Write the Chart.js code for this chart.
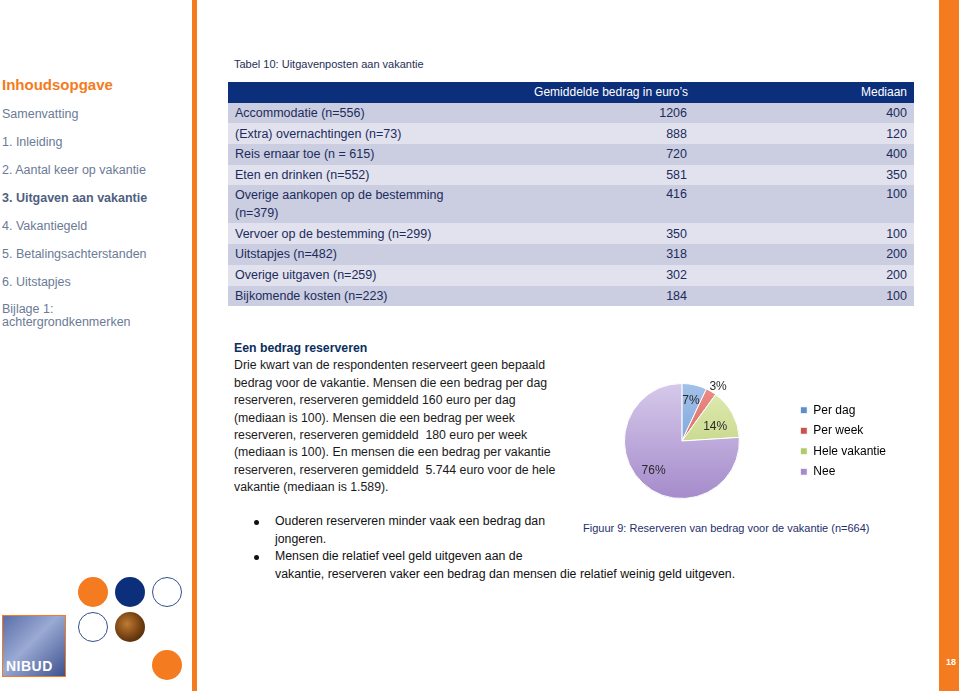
<!DOCTYPE html>
<html>
<head>
<meta charset="utf-8">
<script src="https://cdn.jsdelivr.net/npm/chart.js@4/dist/chart.umd.min.js"></script>
<style>
  body { margin: 0; width: 959px; height: 691px; position: relative; background: #fff; font-family: "Liberation Sans", Arial, sans-serif; overflow: hidden; }
  .abs { position: absolute; }
  #stripeL { left: 192px; top: 0; width: 5px; height: 691px; background: #f47b20; }
  #stripeR { left: 939px; top: 0; width: 20px; height: 691px; background: #f47b20; }
  #toc { left: 2px; top: 76px; font-size: 12.5px; color: #6b7a96; }
  #toc .h { color: #f47b20; font-weight: bold; font-size: 15px; height: 31px; }
  #toc div { height: 28px; }
  #toc .b { font-weight: bold; color: #4e5f80; }
  #tabtitle { left: 234px; top: 58px; font-size: 11px; color: #1f2f55; }
  table { position: absolute; left: 228px; top: 82px; width: 686px; border-collapse: collapse; font-size: 12.5px; color: #1c2c5c; }
  td { padding: 0 7px; height: 20.7px; vertical-align: middle; }
  tr.hd td { background: #0c2f7c; color: #fff; font-size: 12px; }
  tr.o td { background: #cbcde0; }
  tr.e td { background: #e1e2ee; }
  td.n { text-align: right; }
  #txt { left: 234px; top: 340px; width: 360px; font-size: 12.3px; color: #1a1a1a; line-height: 17.4px; }
  #txt b { color: #0c2f5c; }
  #bul { left: 248px; top: 513px; font-size: 12.3px; color: #111; line-height: 17.6px; }
  #bul .d { position: absolute; left: 6px; width: 5px; height: 5px; border-radius: 50%; background: #111; }
  #cap { left: 583px; top: 522px; font-size: 11px; color: #1f2f6b; }
  #chartbox { left: 572px; top: 377px; width: 344px; height: 130px; }
  .c { position: absolute; width: 30px; height: 30px; border-radius: 50%; box-sizing: border-box; }
  #logo { left: 2px; top: 615px; width: 64px; height: 62px; background: linear-gradient(135deg, #5a6ea8, #9aaad4 45%, #3d518e); border: 1px solid #f47b20; box-sizing: border-box; }
  #logo span { position: absolute; left: 3px; bottom: 2px; color: #fff; font-weight: bold; font-size: 14px; letter-spacing: 0.5px; }
  #pg { left: 946px; top: 657px; color: #fff; font-size: 9px; font-weight: bold; }
</style>
</head>
<body>
<div class="abs" id="stripeL"></div>
<div class="abs" id="stripeR"></div>
<div class="abs" id="toc">
  <div class="h">Inhoudsopgave</div>
  <div>Samenvatting</div>
  <div>1. Inleiding</div>
  <div>2. Aantal keer op vakantie</div>
  <div class="b">3. Uitgaven aan vakantie</div>
  <div>4. Vakantiegeld</div>
  <div>5. Betalingsachterstanden</div>
  <div>6. Uitstapjes</div>
  <div style="line-height:13px">Bijlage 1:<br>achtergrondkenmerken</div>
</div>
<div class="abs" id="tabtitle">Tabel 10: Uitgavenposten aan vakantie</div>
<table id="tab"></table>
<div class="abs" id="txt">
  <b>Een bedrag reserveren</b><br>
  Drie kwart van de respondenten reserveert geen bepaald<br>
  bedrag voor de vakantie. Mensen die een bedrag per dag<br>
  reserveren, reserveren gemiddeld 160 euro per dag<br>
  (mediaan is 100). Mensen die een bedrag per week<br>
  reserveren, reserveren gemiddeld&nbsp; 180 euro per week<br>
  (mediaan is 100). En mensen die een bedrag per vakantie<br>
  reserveren, reserveren gemiddeld&nbsp; 5.744 euro voor de hele<br>
  vakantie (mediaan is 1.589).
</div>
<div class="abs" id="bul">
  <div class="d" style="top:7px"></div>
  <div style="padding-left:27px">Ouderen reserveren minder vaak een bedrag dan<br>jongeren.</div>
  <div class="d" style="top:42px"></div>
  <div style="padding-left:27px">Mensen die relatief veel geld uitgeven aan de<br>vakantie, reserveren vaker een bedrag dan mensen die relatief weinig geld uitgeven.</div>
</div>
<div class="abs" id="cap">Figuur 9: Reserveren van bedrag voor de vakantie (n=664)</div>
<div class="abs" id="chartbox"><canvas id="pie"></canvas></div>

<div class="c" style="left:78px;top:577px;background:#f47b20"></div>
<div class="c" style="left:115px;top:577px;background:#0c2f7c"></div>
<div class="c" style="left:152px;top:577px;border:1px solid #33508a"></div>
<div class="c" style="left:78px;top:612px;border:1px solid #33508a"></div>
<div class="c" style="left:115px;top:612px;background:radial-gradient(circle at 40% 40%, #c07a30, #6a3a10 60%, #3a2008)"></div>
<div class="c" style="left:152px;top:650px;background:#f47b20"></div>
<div class="abs" id="logo"><span>NIBUD</span></div>
<div class="abs" id="pg">18</div>

<script>
// tabel 10
const rowLabels = ['Accommodatie (n=556)', '(Extra) overnachtingen (n=73)', 'Reis ernaar toe (n = 615)', 'Eten en drinken (n=552)',
  'Overige aankopen op de bestemming<br>(n=379)', 'Vervoer op de bestemming (n=299)', 'Uitstapjes (n=482)',
  'Overige uitgaven (n=259)', 'Bijkomende kosten (n=223)'];
const gemiddeld = [1206, 888, 720, 581, 416, 350, 318, 302, 184];
const mediaan = [400, 120, 400, 350, 100, 100, 200, 200, 100];

// figuur 9
const categories = ['Per dag', 'Per week', 'Hele vakantie', 'Nee'];
const shares = [7, 3, 14, 76];
const sliceLight = ['#a3c2ea', '#ec8e88', '#e2ecb6', '#d6c9ea'];
const sliceDark = ['#5f8fcb', '#c9524d', '#b3c96c', '#a58bcb'];

let html = '<tr class="hd"><td style="width:233px"></td><td class="n" style="width:206px;padding-right:6px">Gemiddelde bedrag in euro\u2019s</td><td class="n">Mediaan</td></tr>';
rowLabels.forEach((l, i) => {
  const tall = l.indexOf('<br>') > 0;
  html += '<tr class="' + (i % 2 ? 'e' : 'o') + '"><td' + (tall ? ' style="height:38px;line-height:18px"' : '') + '>' + l + '</td>' +
    '<td class="n"' + (tall ? ' style="vertical-align:top;padding-top:2px"' : '') + '>' + gemiddeld[i] + '</td>' +
    '<td class="n"' + (tall ? ' style="vertical-align:top;padding-top:2px"' : '') + '>' + mediaan[i] + '</td></tr>';
});
document.getElementById('tab').innerHTML = html;

function sliceFill(ctx) {
  const chart = ctx.chart;
  const i = ctx.dataIndex;
  const area = chart.chartArea;
  if (!area) return sliceDark[i];
  const g = chart.ctx.createLinearGradient(0, area.top, 0, area.bottom);
  g.addColorStop(0, sliceLight[i]);
  g.addColorStop(1, sliceDark[i]);
  return g;
}

const pieLabels = {
  id: 'pieLabels',
  afterDatasetsDraw(chart) {
    const c = chart.ctx;
    const meta = chart.getDatasetMeta(0);
    c.save();
    c.font = '12px "Liberation Sans", Arial';
    c.fillStyle = '#2a2a2a';
    c.textAlign = 'center';
    c.textBaseline = 'middle';
    meta.data.forEach((arc, i) => {
      const mid = (arc.startAngle + arc.endAngle) / 2;
      const f = shares[i] < 5 ? 1.1 : (i === 2 ? 0.66 : 0.72);
      const x = arc.x + Math.cos(mid) * arc.outerRadius * f;
      const y = arc.y + Math.sin(mid) * arc.outerRadius * f;
      c.fillText(shares[i] + '%', x + (i === 1 ? 4 : 0), y + (i === 2 ? 4 : 0));
    });
    c.restore();
  }
};

new Chart(document.getElementById('pie'), {
  type: 'pie',
  data: {
    labels: categories,
    datasets: [{
      data: shares,
      backgroundColor: sliceFill,
      borderColor: '#ffffff',
      borderWidth: 1
    }]
  },
  options: {
    responsive: true,
    maintainAspectRatio: false,
    animation: false,
    layout: { padding: { left: 0, right: 20, top: 6, bottom: 8 } },
    plugins: {
      tooltip: { enabled: false },
      legend: {
        position: 'right',
        labels: {
          boxWidth: 7,
          boxHeight: 7,
          padding: 8.5,
          color: '#111',
          font: { family: '"Liberation Sans", Arial', size: 12 },
          generateLabels(chart) {
            return categories.map((t, i) => ({
              text: t, fillStyle: sliceDark[i], strokeStyle: '#ffffff', lineWidth: 1, index: i, hidden: false
            }));
          }
        }
      }
    }
  },
  plugins: [pieLabels]
});
</script>
</body>
</html>
